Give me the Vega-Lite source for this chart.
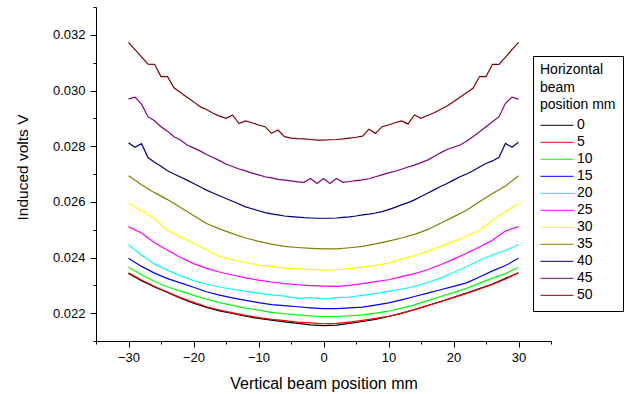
{
  "$schema": "https://vega.github.io/schema/vega-lite/v6.json",
  "autosize": "none",
  "width": 455,
  "height": 334,
  "padding": {"left": 96, "top": 7, "right": 73, "bottom": 53},
  "background": "white",
  "config": {
    "view": {"stroke": null},
    "font": "Liberation Sans",
    "axis": {"domainColor": "black", "tickColor": "black", "labelColor": "black", "titleColor": "black", "grid": false, "labelFont": "Liberation Sans", "titleFont": "Liberation Sans", "titleFontWeight": "normal", "domainWidth": 1, "tickWidth": 1}
  },
  "datasets": {
    "coarse": [
      {"x": -30, "0": 0.02343, "5": 0.02345, "10": 0.02365, "15": 0.02397, "20": 0.02447, "25": 0.02511, "30": 0.02595, "35": 0.02694},
      {"x": -28, "0": 0.02317, "5": 0.02319, "10": 0.02338, "15": 0.02368, "20": 0.02408, "25": 0.02488, "30": 0.02568, "35": 0.02661},
      {"x": -26, "0": 0.02294, "5": 0.02296, "10": 0.02314, "15": 0.02344, "20": 0.02377, "25": 0.02453, "30": 0.02540, "35": 0.02633},
      {"x": -24, "0": 0.02274, "5": 0.02276, "10": 0.02294, "15": 0.02324, "20": 0.02354, "25": 0.02426, "30": 0.02497, "35": 0.02608},
      {"x": -22, "0": 0.02254, "5": 0.02256, "10": 0.02279, "15": 0.02309, "20": 0.02334, "25": 0.02400, "30": 0.02474, "35": 0.02580},
      {"x": -20, "0": 0.02236, "5": 0.02239, "10": 0.02264, "15": 0.02293, "20": 0.02317, "25": 0.02378, "30": 0.02451, "35": 0.02551},
      {"x": -18, "0": 0.02221, "5": 0.02223, "10": 0.02250, "15": 0.02277, "20": 0.02304, "25": 0.02361, "30": 0.02427, "35": 0.02522},
      {"x": -16, "0": 0.02208, "5": 0.02211, "10": 0.02238, "15": 0.02265, "20": 0.02294, "25": 0.02348, "30": 0.02404, "35": 0.02503},
      {"x": -14, "0": 0.02199, "5": 0.02201, "10": 0.02228, "15": 0.02255, "20": 0.02286, "25": 0.02337, "30": 0.02391, "35": 0.02486},
      {"x": -12, "0": 0.02189, "5": 0.02192, "10": 0.02218, "15": 0.02246, "20": 0.02278, "25": 0.02327, "30": 0.02382, "35": 0.02470},
      {"x": -10, "0": 0.02181, "5": 0.02184, "10": 0.02211, "15": 0.02238, "20": 0.02272, "25": 0.02319, "30": 0.02373, "35": 0.02458},
      {"x": -8, "0": 0.02175, "5": 0.02178, "10": 0.02203, "15": 0.02231, "20": 0.02266, "25": 0.02312, "30": 0.02367, "35": 0.02448},
      {"x": -6, "0": 0.02169, "5": 0.02173, "10": 0.02198, "15": 0.02227, "20": 0.02261, "25": 0.02306, "30": 0.02362, "35": 0.02440},
      {"x": -4, "0": 0.02163, "5": 0.02168, "10": 0.02194, "15": 0.02223, "20": 0.02253, "25": 0.02302, "30": 0.02359, "35": 0.02436},
      {"x": -2, "0": 0.02158, "5": 0.02165, "10": 0.02190, "15": 0.02219, "20": 0.02256, "25": 0.02299, "30": 0.02357, "35": 0.02433},
      {"x": 0, "0": 0.02155, "5": 0.02162, "10": 0.02188, "15": 0.02216, "20": 0.02251, "25": 0.02297, "30": 0.02355, "35": 0.02431},
      {"x": 2, "0": 0.02157, "5": 0.02163, "10": 0.02188, "15": 0.02216, "20": 0.02256, "25": 0.02296, "30": 0.02356, "35": 0.02431},
      {"x": 4, "0": 0.02163, "5": 0.02168, "10": 0.02190, "15": 0.02219, "20": 0.02258, "25": 0.02300, "30": 0.02360, "35": 0.02435},
      {"x": 6, "0": 0.02170, "5": 0.02174, "10": 0.02194, "15": 0.02222, "20": 0.02264, "25": 0.02306, "30": 0.02366, "35": 0.02440},
      {"x": 8, "0": 0.02178, "5": 0.02181, "10": 0.02200, "15": 0.02229, "20": 0.02270, "25": 0.02313, "30": 0.02372, "35": 0.02449},
      {"x": 10, "0": 0.02188, "5": 0.02189, "10": 0.02207, "15": 0.02237, "20": 0.02278, "25": 0.02320, "30": 0.02380, "35": 0.02459},
      {"x": 12, "0": 0.02199, "5": 0.02200, "10": 0.02218, "15": 0.02248, "20": 0.02286, "25": 0.02331, "30": 0.02395, "35": 0.02470},
      {"x": 14, "0": 0.02213, "5": 0.02213, "10": 0.02230, "15": 0.02260, "20": 0.02296, "25": 0.02342, "30": 0.02407, "35": 0.02483},
      {"x": 16, "0": 0.02227, "5": 0.02227, "10": 0.02245, "15": 0.02272, "20": 0.02310, "25": 0.02356, "30": 0.02422, "35": 0.02500},
      {"x": 18, "0": 0.02242, "5": 0.02241, "10": 0.02260, "15": 0.02284, "20": 0.02326, "25": 0.02374, "30": 0.02440, "35": 0.02523},
      {"x": 20, "0": 0.02257, "5": 0.02256, "10": 0.02274, "15": 0.02296, "20": 0.02346, "25": 0.02394, "30": 0.02458, "35": 0.02546},
      {"x": 22, "0": 0.02272, "5": 0.02271, "10": 0.02289, "15": 0.02309, "20": 0.02367, "25": 0.02415, "30": 0.02477, "35": 0.02570},
      {"x": 24, "0": 0.02288, "5": 0.02287, "10": 0.02308, "15": 0.02330, "20": 0.02390, "25": 0.02438, "30": 0.02497, "35": 0.02600},
      {"x": 26, "0": 0.02305, "5": 0.02303, "10": 0.02326, "15": 0.02352, "20": 0.02410, "25": 0.02462, "30": 0.02535, "35": 0.02630},
      {"x": 28, "0": 0.02325, "5": 0.02323, "10": 0.02342, "15": 0.02371, "20": 0.02425, "25": 0.02495, "30": 0.02565, "35": 0.02657},
      {"x": 30, "0": 0.02345, "5": 0.02345, "10": 0.02365, "15": 0.02397, "20": 0.02447, "25": 0.02511, "30": 0.02595, "35": 0.02694}
    ],
    "fine": [
      {"x": -30, "40": 0.02812, "45": 0.02969, "50": 0.03173},
      {"x": -29, "40": 0.02796, "45": 0.02976, "50": 0.03147},
      {"x": -28, "40": 0.02809, "45": 0.02951, "50": 0.03121},
      {"x": -27, "40": 0.02759, "45": 0.02906, "50": 0.03095},
      {"x": -26, "40": 0.02742, "45": 0.02891, "50": 0.03094},
      {"x": -25, "40": 0.02728, "45": 0.02870, "50": 0.03050},
      {"x": -24, "40": 0.02712, "45": 0.02854, "50": 0.03050},
      {"x": -23, "40": 0.02700, "45": 0.02834, "50": 0.03010},
      {"x": -22, "40": 0.02689, "45": 0.02822, "50": 0.02993},
      {"x": -21, "40": 0.02678, "45": 0.02804, "50": 0.02976},
      {"x": -20, "40": 0.02666, "45": 0.02794, "50": 0.02960},
      {"x": -19, "40": 0.02654, "45": 0.02783, "50": 0.02942},
      {"x": -18, "40": 0.02642, "45": 0.02770, "50": 0.02932},
      {"x": -17, "40": 0.02632, "45": 0.02759, "50": 0.02918},
      {"x": -16, "40": 0.02622, "45": 0.02748, "50": 0.02908},
      {"x": -15, "40": 0.02612, "45": 0.02736, "50": 0.02900},
      {"x": -14, "40": 0.02602, "45": 0.02727, "50": 0.02912},
      {"x": -13, "40": 0.02592, "45": 0.02718, "50": 0.02881},
      {"x": -12, "40": 0.02582, "45": 0.02711, "50": 0.02891},
      {"x": -11, "40": 0.02575, "45": 0.02703, "50": 0.02884},
      {"x": -10, "40": 0.02568, "45": 0.02697, "50": 0.02876},
      {"x": -9, "40": 0.02561, "45": 0.02690, "50": 0.02870},
      {"x": -8, "40": 0.02557, "45": 0.02686, "50": 0.02846},
      {"x": -7, "40": 0.02553, "45": 0.02681, "50": 0.02858},
      {"x": -6, "40": 0.02549, "45": 0.02678, "50": 0.02834},
      {"x": -5, "40": 0.02547, "45": 0.02675, "50": 0.02829},
      {"x": -4, "40": 0.02545, "45": 0.02672, "50": 0.02827},
      {"x": -3, "40": 0.02543, "45": 0.02670, "50": 0.02826},
      {"x": -2, "40": 0.02542, "45": 0.02684, "50": 0.02824},
      {"x": -1, "40": 0.02541, "45": 0.02666, "50": 0.02822},
      {"x": 0, "40": 0.02541, "45": 0.02684, "50": 0.02822},
      {"x": 1, "40": 0.02541, "45": 0.02666, "50": 0.02823},
      {"x": 2, "40": 0.02542, "45": 0.02684, "50": 0.02824},
      {"x": 3, "40": 0.02544, "45": 0.02670, "50": 0.02826},
      {"x": 4, "40": 0.02546, "45": 0.02673, "50": 0.02829},
      {"x": 5, "40": 0.02549, "45": 0.02676, "50": 0.02832},
      {"x": 6, "40": 0.02553, "45": 0.02679, "50": 0.02836},
      {"x": 7, "40": 0.02556, "45": 0.02683, "50": 0.02861},
      {"x": 8, "40": 0.02560, "45": 0.02690, "50": 0.02846},
      {"x": 9, "40": 0.02565, "45": 0.02697, "50": 0.02870},
      {"x": 10, "40": 0.02572, "45": 0.02704, "50": 0.02876},
      {"x": 11, "40": 0.02580, "45": 0.02710, "50": 0.02884},
      {"x": 12, "40": 0.02589, "45": 0.02717, "50": 0.02891},
      {"x": 13, "40": 0.02597, "45": 0.02725, "50": 0.02880},
      {"x": 14, "40": 0.02607, "45": 0.02732, "50": 0.02912},
      {"x": 15, "40": 0.02619, "45": 0.02741, "50": 0.02900},
      {"x": 16, "40": 0.02631, "45": 0.02750, "50": 0.02910},
      {"x": 17, "40": 0.02643, "45": 0.02763, "50": 0.02920},
      {"x": 18, "40": 0.02655, "45": 0.02776, "50": 0.02932},
      {"x": 19, "40": 0.02666, "45": 0.02788, "50": 0.02944},
      {"x": 20, "40": 0.02678, "45": 0.02796, "50": 0.02960},
      {"x": 21, "40": 0.02690, "45": 0.02804, "50": 0.02976},
      {"x": 22, "40": 0.02700, "45": 0.02818, "50": 0.02992},
      {"x": 23, "40": 0.02712, "45": 0.02834, "50": 0.03008},
      {"x": 24, "40": 0.02725, "45": 0.02852, "50": 0.03050},
      {"x": 25, "40": 0.02738, "45": 0.02870, "50": 0.03050},
      {"x": 26, "40": 0.02747, "45": 0.02888, "50": 0.03094},
      {"x": 27, "40": 0.02760, "45": 0.02906, "50": 0.03094},
      {"x": 28, "40": 0.02810, "45": 0.02954, "50": 0.03120},
      {"x": 29, "40": 0.02796, "45": 0.02976, "50": 0.03147},
      {"x": 30, "40": 0.02814, "45": 0.02969, "50": 0.03173}
    ]
  },
  "encoding": {
    "x": {
      "field": "x", "type": "quantitative",
      "scale": {"domain": [-35, 35], "nice": false, "zero": false},
      "axis": {
        "title": "Vertical beam position mm",
        "values": [-35, -30, -25, -20, -15, -10, -5, 0, 5, 10, 15, 20, 25, 30, 35],
        "labelExpr": "datum.value % 10 === 0 ? format(datum.value, 'd') : ''",
        "tickSize": {"condition": {"test": "datum.value % 10 === 0", "value": 6}, "value": 3},
        "labelFontSize": 13, "labelPadding": 4,
        "titleFontSize": 16, "titleX": 227.5, "titleY": 47, "titleBaseline": "alphabetic", "titleAlign": "center"
      }
    },
    "y": {
      "field": "v", "type": "quantitative",
      "scale": {"domain": [0.021, 0.033], "nice": false, "zero": false},
      "axis": {
        "title": "Induced volts V",
        "values": [0.021, 0.022, 0.023, 0.024, 0.025, 0.026, 0.027, 0.028, 0.029, 0.03, 0.031, 0.032, 0.033],
        "labelExpr": "round(datum.value * 1000) % 2 === 0 ? format(datum.value, '.3f') : ''",
        "tickSize": {"condition": {"test": "round(datum.value * 1000) % 2 === 0", "value": 6}, "value": 3},
        "labelFontSize": 13, "labelPadding": 5,
        "titleFontSize": 15.5, "titleAngle": -90, "titleX": -74, "titleY": 160, "titleAlign": "center", "titleBaseline": "middle"
      }
    },
    "color": {
      "field": "h", "type": "nominal",
      "scale": {
        "domain": ["0", "5", "10", "15", "20", "25", "30", "35", "40", "45", "50"],
        "range": ["#000000", "#ff0000", "#00ff00", "#0000ff", "#00ffff", "#ff00ff", "#ffff00", "#808000", "#000080", "#800080", "#800000"]
      },
      "legend": {
        "title": ["Horizontal", "beam", "position mm"],
        "orient": "none", "legendX": 437, "legendY": 49,
        "fillColor": "white", "strokeColor": "black", "padding": 7,
        "titleFont": "Liberation Sans", "titleFontSize": 14, "titleFontWeight": "normal", "titleColor": "black", "titleLineHeight": 17.5, "titlePadding": 5,
        "labelFont": "Liberation Sans", "labelFontSize": 14, "labelColor": "black", "labelOffset": 3,
        "symbolType": "stroke", "symbolSize": 1089, "symbolStrokeWidth": 1, "clipHeight": 16.6, "rowPadding": 0
      }
    }
  },
  "layer": [
    {
      "data": {"name": "coarse"},
      "transform": [{"fold": ["0", "5", "10", "15", "20", "25", "30", "35"], "as": ["h", "v"]}],
      "mark": {"type": "line", "strokeWidth": 1.2}
    },
    {
      "data": {"name": "fine"},
      "transform": [{"fold": ["40", "45", "50"], "as": ["h", "v"]}],
      "mark": {"type": "line", "strokeWidth": 1.2}
    }
  ]
}
